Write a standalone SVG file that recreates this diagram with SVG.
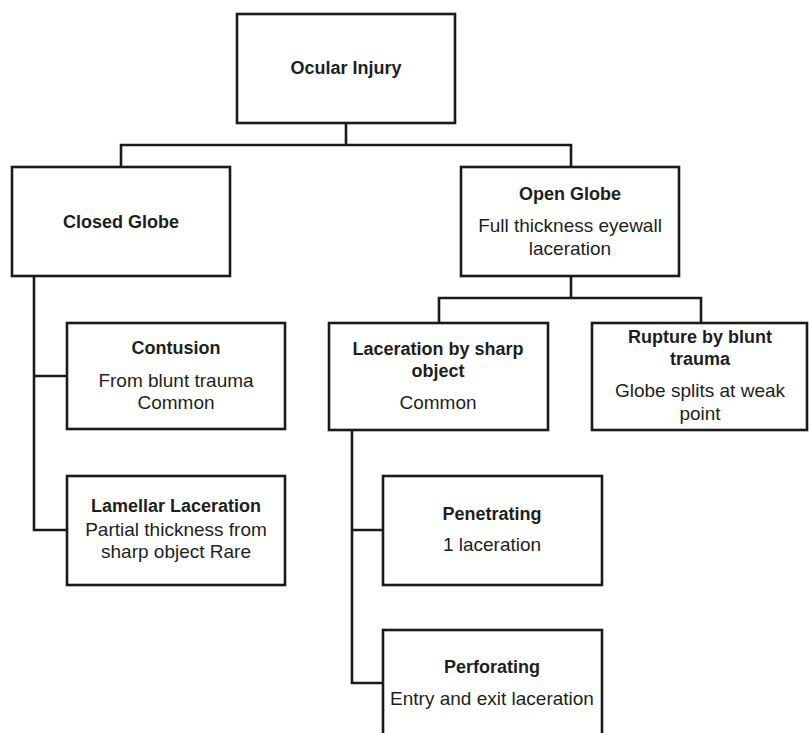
<svg xmlns="http://www.w3.org/2000/svg" width="809" height="733" viewBox="0 0 809 733">
<style>
.box{fill:#fff;stroke:#1a1a1a;stroke-width:2.6}
.conn{fill:none;stroke:#1a1a1a;stroke-width:2.6}
text{font-family:"Liberation Sans",Arial,sans-serif;fill:#1e1e1e;text-anchor:middle}
.t{font-size:18px;font-weight:bold}
.s{font-size:19px}
</style>
<rect width="809" height="733" fill="#fff"/>
<g id="connectors">
<path class="conn" d="M346 123V145M121 167V145H571V167"/>
<path class="conn" d="M34 276V530H67M34 376H67"/>
<path class="conn" d="M571 276V298M439 323V298H701V323"/>
<path class="conn" d="M352 430V683H383M352 530H383"/>
</g>
<g id="ocular-injury">
<rect class="box" x="237" y="14" width="218" height="109"/>
<text class="t" x="346" y="74">Ocular Injury</text>
</g>
<g id="closed-globe">
<rect class="box" x="12" y="167" width="218" height="109"/>
<text class="t" x="121" y="228">Closed Globe</text>
</g>
<g id="open-globe">
<rect class="box" x="461" y="167" width="218" height="109"/>
<text class="t" x="570" y="200">Open Globe</text>
<text class="s" x="570" y="232">Full thickness eyewall</text>
<text class="s" x="570" y="255">laceration</text>
</g>
<g id="contusion">
<rect class="box" x="67" y="323" width="218" height="106"/>
<text class="t" x="176" y="354">Contusion</text>
<text class="s" x="176" y="387">From blunt trauma</text>
<text class="s" x="176" y="409">Common</text>
</g>
<g id="lamellar-laceration">
<rect class="box" x="67" y="476" width="218" height="109"/>
<text class="t" x="176" y="512">Lamellar Laceration</text>
<text class="s" x="176" y="536">Partial thickness from</text>
<text class="s" x="176" y="558">sharp object Rare</text>
</g>
<g id="laceration-sharp">
<rect class="box" x="329" y="323" width="219" height="107"/>
<text class="t" x="438" y="355">Laceration by sharp</text>
<text class="t" x="438" y="377">object</text>
<text class="s" x="438" y="409">Common</text>
</g>
<g id="rupture-blunt">
<rect class="box" x="592" y="323" width="215" height="107"/>
<text class="t" x="700" y="343">Rupture by blunt</text>
<text class="t" x="700" y="365">trauma</text>
<text class="s" x="700" y="397">Globe splits at weak</text>
<text class="s" x="700" y="420">point</text>
</g>
<g id="penetrating">
<rect class="box" x="383" y="476" width="219" height="109"/>
<text class="t" x="492" y="520">Penetrating</text>
<text class="s" x="492" y="551">1 laceration</text>
</g>
<g id="perforating">
<rect class="box" x="383" y="630" width="219" height="120"/>
<text class="t" x="492" y="673">Perforating</text>
<text class="s" x="492" y="705">Entry and exit laceration</text>
</g>
</svg>
